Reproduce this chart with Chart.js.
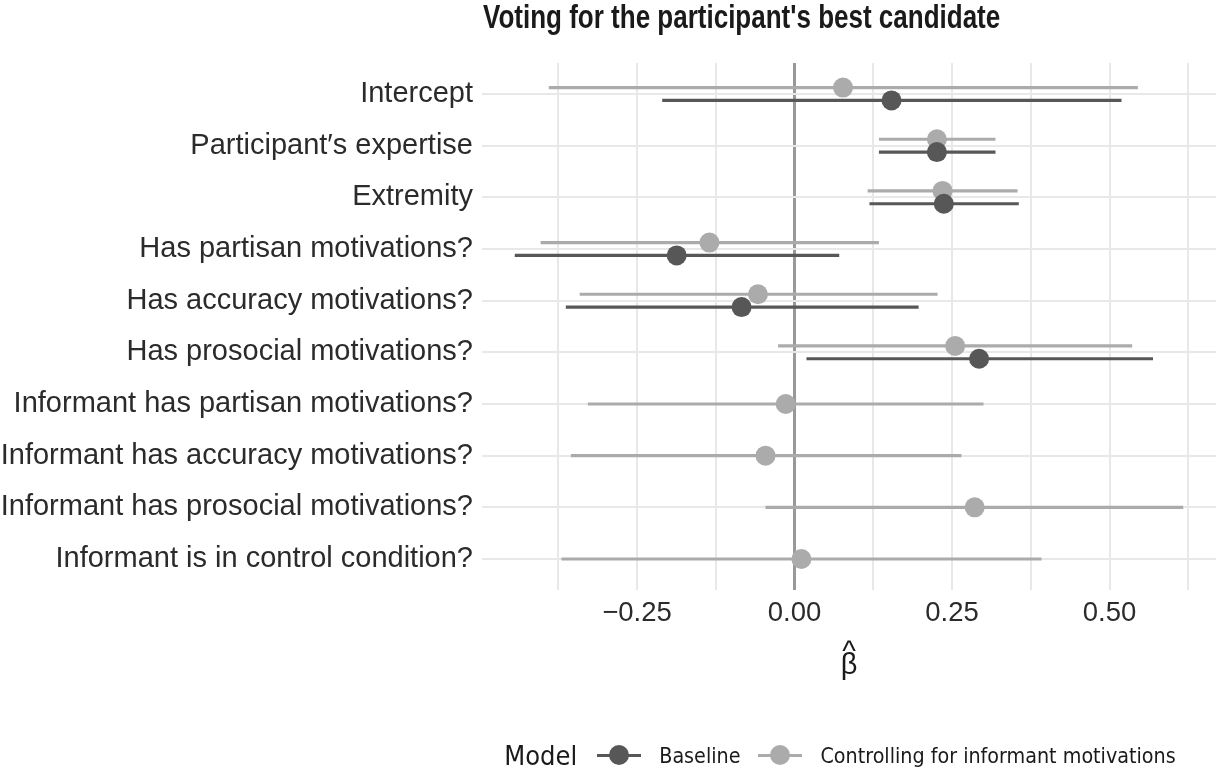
<!DOCTYPE html>
<html>
<head>
<meta charset="utf-8">
<script src="https://cdn.jsdelivr.net/npm/chart.js@4"></script>
<style>
  body { margin: 0; background: #fff; }
  #wrap { position: relative; width: 1216px; height: 770px; }
  #title {
    position: absolute; left: 483px; top: 0; white-space: nowrap;
    font-family: "Liberation Sans", Arial, sans-serif; font-weight: bold;
    font-size: 33px; line-height: 33px; color: #1a1a1a;
    transform-origin: 0 0;
  }
  #legend {
    position: absolute; left: 482px; top: 737px; width: 734px; height: 36px;
    display: flex; align-items: center; justify-content: center;
    font-family: "Liberation Sans Narrow", "DejaVu Sans Condensed", sans-serif;
    color: #1a1a1a; font-size: 21.3px;
  }
  #legend .ttl { font-size: 27px; margin-right: 20px; }
  #legend .key { position: relative; width: 44px; height: 22px; margin-right: 18px; }
  #legend .key .ln { position: absolute; left: 0; right: 0; top: 9.5px; height: 3px; }
  #legend .key .pt { position: absolute; left: 12px; top: 1px; width: 20px; height: 20px; border-radius: 50%; }
  #legend .lab { margin-right: 18px; }
</style>
</head>
<body>
<div id="wrap">
  <canvas id="chart" width="1216" height="770"></canvas>
  <div id="title">Voting for the participant's best candidate</div>
  <div id="legend"></div>
</div>
<script>
// Filas del gráfico (de arriba a abajo)
const categories = [
  'Intercept',
  'Participant\u2032s expertise',
  'Extremity',
  'Has partisan motivations?',
  'Has accuracy motivations?',
  'Has prosocial motivations?',
  'Informant has partisan motivations?',
  'Informant has accuracy motivations?',
  'Informant has prosocial motivations?',
  'Informant is in control condition?'
];

// Modelo base (no incluye las variables del informante)
const baselineEst  = [0.154, 0.226, 0.237, -0.187, -0.084, 0.293, null, null, null, null];
const baselineLow  = [-0.210, 0.134, 0.119, -0.444, -0.363, 0.019, null, null, null, null];
const baselineHigh = [0.519, 0.319, 0.356, 0.071, 0.197, 0.569, null, null, null, null];

// Modelo controlando por las motivaciones del informante
const controlEst  = [0.077, 0.226, 0.235, -0.135, -0.058, 0.255, -0.014, -0.046, 0.286, 0.011];
const controlLow  = [-0.390, 0.134, 0.116, -0.403, -0.341, -0.026, -0.328, -0.355, -0.046, -0.370];
const controlHigh = [0.545, 0.319, 0.354, 0.134, 0.227, 0.536, 0.300, 0.265, 0.617, 0.392];

const xTicks = [-0.375, -0.25, -0.125, 0, 0.125, 0.25, 0.375, 0.5, 0.625];
const xLabels = { '-0.25': '\u22120.25', '0': '0.00', '0.25': '0.25', '0.5': '0.50' };

const models = [
  { name: 'Baseline', color: '#575757', est: baselineEst, low: baselineLow, high: baselineHigh },
  { name: 'Controlling for informant motivations', color: '#ababab', est: controlEst, low: controlLow, high: controlHigh }
];

const dodge = 0.124;

// Posición vertical de cada fila según cuántos modelos tienen valor
function rowY(m, i) {
  const both = baselineEst[i] !== null && controlEst[i] !== null;
  if (!both) return i;
  return m === 0 ? i + dodge : i - dodge;
}

const datasets = models.map((m, k) => ({
  label: m.name,
  data: m.est.map((v, i) => v === null ? null : { x: v, y: rowY(k, i) }).filter(p => p !== null),
  backgroundColor: m.color,
  borderColor: m.color,
  pointRadius: 10,
  pointHoverRadius: 10,
  borderWidth: 0,
  showLine: false
}));

// Dibuja los intervalos de confianza con las escalas del gráfico
const errorBars = {
  id: 'errorBars',
  beforeDatasetsDraw(chart) {
    const { ctx, scales: { x, y } } = chart;
    ctx.save();
    ctx.lineWidth = 3.2;
    ctx.lineCap = 'butt';
    [1, 0].forEach(k => {
      const m = models[k];
      ctx.strokeStyle = m.color;
      m.est.forEach((v, i) => {
        if (v === null) return;
        const py = y.getPixelForValue(rowY(k, i));
        ctx.beginPath();
        ctx.moveTo(x.getPixelForValue(m.low[i]), py);
        ctx.lineTo(x.getPixelForValue(m.high[i]), py);
        ctx.stroke();
      });
    });
    ctx.restore();
  }
};

const sans = '"Liberation Sans", Arial, sans-serif';

new Chart(document.getElementById('chart'), {
  type: 'scatter',
  data: { datasets },
  plugins: [errorBars],
  options: {
    responsive: false,
    animation: false,
    layout: { autoPadding: false, padding: { left: 0, right: 0, top: 63, bottom: 70 } },
    plugins: {
      legend: { display: false },
      tooltip: { enabled: false },
      title: { display: false }
    },
    scales: {
      x: {
        type: 'linear',
        min: -0.496,
        max: 0.669,
        afterBuildTicks: s => { s.ticks = xTicks.map(v => ({ value: v })); },
        afterFit: s => { s.height = 110; s.paddingLeft = 0; s.paddingRight = 0; },
        border: { display: false },
        grid: {
          drawTicks: false,
          color: c => c.tick && c.tick.value === 0 ? '#999999' : '#e8e8e8',
          lineWidth: c => c.tick && c.tick.value === 0 ? 3 : 2
        },
        ticks: {
          padding: 7,
          color: '#2b2b2b',
          font: { family: sans, size: 27.5 },
          maxRotation: 0,
          autoSkip: false,
          callback: v => xLabels[String(v)] || ''
        },
        title: {
          display: true,
          text: ['^', '\u03B2'],
          color: '#1a1a1a',
          font: { family: sans, size: 29, lineHeight: '13px' },
          padding: { top: 0, bottom: 28 }
        }
      },
      y: {
        type: 'linear',
        reverse: true,
        min: -0.6,
        max: 9.6,
        afterBuildTicks: s => { s.ticks = categories.map((c, i) => ({ value: i })); },
        afterFit: s => { s.width = 482; },
        border: { display: false },
        grid: { drawTicks: false, color: '#e8e8e8', lineWidth: 2 },
        ticks: {
          padding: 9,
          color: '#2b2b2b',
          font: { family: sans, size: 29 },
          autoSkip: false,
          callback: v => categories[v]
        }
      }
    }
  }
});

// Título estrecho: se comprime horizontalmente hasta el ancho original
const title = document.getElementById('title');
title.style.transform = 'scaleX(' + (517 / title.offsetWidth) + ')';

// Leyenda
const legend = document.getElementById('legend');
legend.innerHTML = '<span class="ttl">Model</span>' + models.map(m =>
  '<span class="key"><span class="ln" style="background:' + m.color + '"></span>' +
  '<span class="pt" style="background:' + m.color + '"></span></span>' +
  '<span class="lab">' + m.name + '</span>').join('');
</script>
</body>
</html>
